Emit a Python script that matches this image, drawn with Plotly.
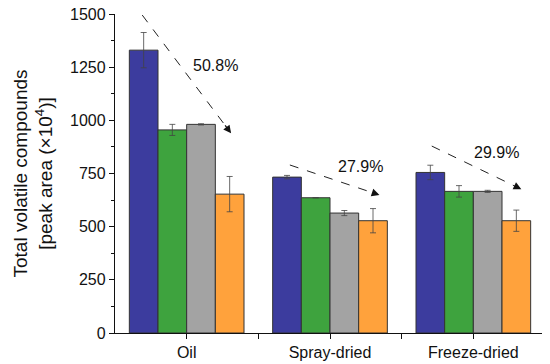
import plotly.graph_objects as go

categories = ["Oil", "Spray-dried", "Freeze-dried"]
x_pos = [0, 1, 2]
series_names = ["S1", "S2", "S3", "S4"]
series_colors = ["#3C3C9E", "#3EA33E", "#A3A3A3", "#FFA23C"]
values = [
    [1330, 733, 755],
    [955, 636, 666],
    [981, 564, 666],
    [653, 528, 528],
]
errors = [
    [83, 8, 34],
    [26, 0, 27],
    [3, 12, 5],
    [83, 57, 50],
]
y_ticks = [0, 250, 500, 750, 1000, 1250, 1500]

# reduction arrows: (x0, y0, x1, y1) in data units, and label
arrow_starts_x = [-0.31, 0.72, 1.71]
arrow_starts_y = [1495, 790, 879]
arrow_ends_x = [0.31, 1.345, 2.335]
arrow_ends_y = [939, 649, 676]
label_texts = ["50.8%", "27.9%", "29.9%"]
label_x = [0.2, 1.21, 2.16]
label_y = [1260, 782, 848]

FONT = "Liberation Sans, Arial"

fig = go.Figure()
for name, col, vals, errs in zip(series_names, series_colors, values, errors):
    fig.add_trace(go.Bar(
        x=x_pos, y=vals, name=name,
        marker=dict(color=col, line=dict(color="#333333", width=1)),
        error_y=dict(type="data", array=errs, color="#444444", thickness=0.8, width=3),
        showlegend=False,
    ))

for x0, y0, x1, y1 in zip(arrow_starts_x, arrow_starts_y, arrow_ends_x, arrow_ends_y):
    fig.add_shape(type="line", x0=x0, y0=y0, x1=x1 - (x1 - x0) * 0.03, y1=y1 - (y1 - y0) * 0.03,
                  xref="x", yref="y", line=dict(color="#222222", width=1, dash="dash"))
    fig.add_annotation(x=x1, y=y1, ax=x1 - (x1 - x0) * 0.08, ay=y1 - (y1 - y0) * 0.08,
                       xref="x", yref="y", axref="x", ayref="y", text="",
                       showarrow=True, arrowhead=2, arrowsize=1.3, arrowwidth=1.2,
                       arrowcolor="#111111")

for t, lx, ly in zip(label_texts, label_x, label_y):
    fig.add_annotation(x=lx, y=ly, xref="x", yref="y", text=t, showarrow=False,
                       font=dict(size=16, color="#111111", family=FONT))

fig.update_layout(
    width=542, height=356,
    margin=dict(l=107, r=5, t=6, b=31),
    plot_bgcolor="white", paper_bgcolor="white",
    barmode="group", bargap=0.2, bargroupgap=0,
    font=dict(family=FONT, size=16, color="#111111"),
)
fig.update_xaxes(
    range=[-0.5, 2.5], tickmode="array", automargin=False,
    tickvals=[0, 0.5, 1, 1.5, 2], ticktext=["Oil", "", "Spray-dried", "", "Freeze-dried"],
    ticks="outside", ticklen=5, tickwidth=1.2, tickcolor="#111111",
    showline=True, linecolor="#111111", linewidth=1.3, showgrid=False, zeroline=False,
    tickfont=dict(size=16, family=FONT),
)
fig.update_yaxes(
    range=[0, 1500], tickmode="array", tickvals=y_ticks, automargin=False,
    ticklabeloverflow="allow",
    ticks="outside", ticklen=5, tickwidth=1.2, tickcolor="#111111",
    minor=dict(tickmode="array", tickvals=[125, 375, 625, 875, 1125, 1375],
               ticks="outside", ticklen=3, tickcolor="#111111", tickwidth=1),
    showline=True, linecolor="#111111", linewidth=1.3, showgrid=False, zeroline=False,
    tickfont=dict(size=16, family=FONT),
    title=dict(text="Total volatile compounds<br>[peak area (×10<sup>4</sup>)]",
               font=dict(size=19, family=FONT), standoff=12),
)
fig.write_html("out.html")
